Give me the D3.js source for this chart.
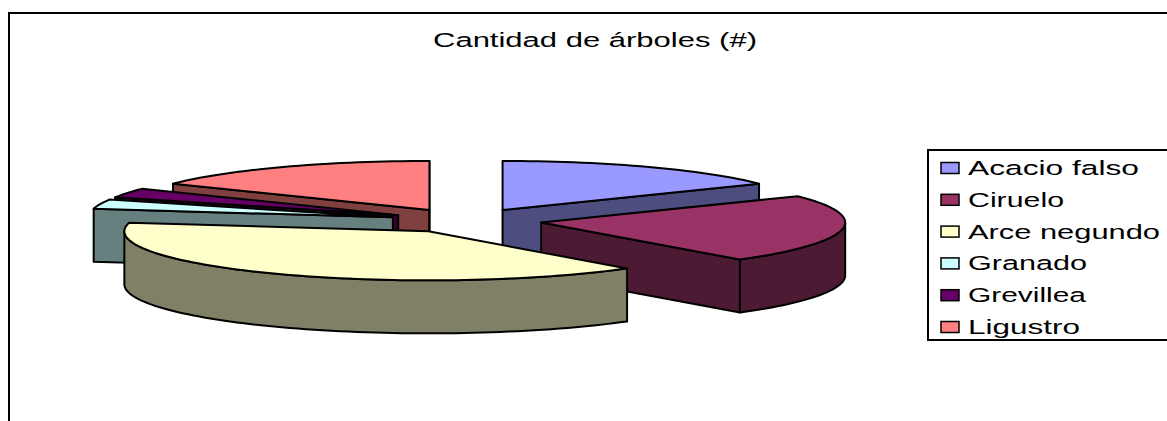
<!DOCTYPE html>
<html>
<head>
<meta charset="utf-8">
<script src="https://cdn.jsdelivr.net/npm/d3@7"></script>
<style>
  body { margin: 0; background: #fff; }
  svg { display: block; }
  text { font-family: "Liberation Sans", Arial, sans-serif; fill: #000; }
</style>
</head>
<body>
<svg id="drawing_region"></svg>
<script>
const categories = ['Acacio falso', 'Ciruelo', 'Arce negundo', 'Granado', 'Grevillea', 'Ligustro'];
const values = [31, 44, 76, 6, 6, 31];
const title = 'Cantidad de árboles (#)';

const colors = ['#9999ff', '#993366', '#ffffcc', '#ccffff', '#660066', '#ff8080'];
const drawOrder = [5, 4, 3, 0, 1, 2];

const width = 1167, height = 421;
const cx = 466, cy = 220.7;
const rx = 304, ry = 49, depth = 53, explode = 0.25;

const svg = d3.select('#drawing_region')
    .attr('width', width)
    .attr('height', height);

// chart frame runs off the right and bottom of the picture
svg.append('rect')
    .attr('x', 9).attr('y', 13)
    .attr('width', width).attr('height', height)
    .attr('fill', 'none')
    .attr('stroke', '#000')
    .attr('stroke-width', 2);

svg.append('text')
    .attr('x', 433).attr('y', 47)
    .attr('font-size', 20.5)
    .attr('textLength', 324)
    .attr('lengthAdjust', 'spacingAndGlyphs')
    .text(title);

const pie = d3.pie().sort(null).startAngle(0).endAngle(2 * Math.PI);
const arcs = pie(values);

const px = (t, o) => o[0] + rx * Math.sin(t);
const py = (t, o) => o[1] - ry * Math.cos(t);
const line = d3.line();
const side = c => { const k = d3.rgb(c); return d3.rgb(k.r / 2, k.g / 2, k.b / 2).formatHex(); };

function arcPoints(a0, a1, o, dy) {
    const n = Math.max(2, Math.ceil((a1 - a0) / 0.03));
    return d3.range(n + 1).map(i => {
        const t = a0 + (a1 - a0) * i / n;
        return [px(t, o), py(t, o) + dy];
    });
}

function radialFace(t, o) {
    const p = [px(t, o), py(t, o)];
    return [o, p, [p[0], p[1] + depth], [o[0], o[1] + depth]];
}

const chart = svg.append('g');

drawOrder.forEach(i => {
    const d = arcs[i];
    const mid = (d.startAngle + d.endAngle) / 2;
    const o = [cx + explode * rx * Math.sin(mid), cy - explode * ry * Math.cos(mid)];
    const g = chart.append('g')
        .attr('stroke', '#000')
        .attr('stroke-width', 2)
        .attr('stroke-linejoin', 'round');

    // only the walls that face the viewer
    if (Math.sin(d.startAngle) < 0) {
        g.append('path')
            .attr('d', line(radialFace(d.startAngle, o)) + 'Z')
            .attr('fill', side(colors[i]));
    }
    if (Math.sin(d.endAngle) > 0) {
        g.append('path')
            .attr('d', line(radialFace(d.endAngle, o)) + 'Z')
            .attr('fill', side(colors[i]));
    }
    const a0 = Math.max(d.startAngle, Math.PI / 2);
    const a1 = Math.min(d.endAngle, 3 * Math.PI / 2);
    if (a1 > a0) {
        const top = arcPoints(a0, a1, o, 0);
        const bottom = arcPoints(a0, a1, o, depth).reverse();
        g.append('path')
            .attr('d', line(top.concat(bottom)) + 'Z')
            .attr('fill', side(colors[i]));
    }

    g.append('path')
        .attr('d', line([o].concat(arcPoints(d.startAngle, d.endAngle, o, 0))) + 'Z')
        .attr('fill', colors[i]);
});

// legend
const legendY = d3.scalePoint()
    .domain(categories)
    .range([168, 327]);

svg.append('rect')
    .attr('x', 928).attr('y', 150)
    .attr('width', 300).attr('height', 190)
    .attr('fill', '#fff')
    .attr('stroke', '#000')
    .attr('stroke-width', 2);

const legendWidths = [171, 96, 192, 119, 118, 112];

const row = svg.selectAll('.legend')
    .data(categories)
    .enter()
    .append('g')
    .attr('class', 'legend')
    .attr('transform', d => `translate(0, ${legendY(d)})`);

row.append('rect')
    .attr('x', 941).attr('y', -5.5)
    .attr('width', 18).attr('height', 11)
    .attr('fill', (d, i) => colors[i])
    .attr('stroke', '#000')
    .attr('stroke-width', 1.5);

row.append('text')
    .attr('x', 968).attr('y', 7)
    .attr('font-size', 20.5)
    .attr('textLength', (d, i) => legendWidths[i])
    .attr('lengthAdjust', 'spacingAndGlyphs')
    .text(d => d);
</script>
</body>
</html>
